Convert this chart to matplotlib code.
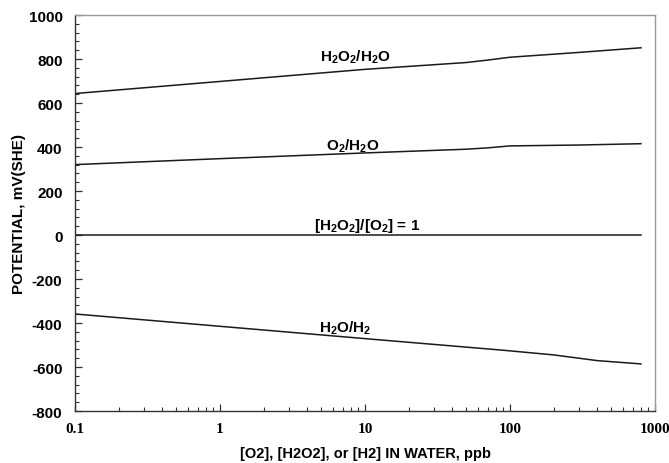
import matplotlib
matplotlib.use("Agg")
import matplotlib.pyplot as plt
from matplotlib.ticker import MultipleLocator, LogLocator, FixedLocator, NullFormatter

plt.rcParams['font.family'] = ['Liberation Sans', 'DejaVu Sans']
plt.rcParams['mathtext.fontset'] = 'custom'
plt.rcParams['mathtext.rm'] = 'Liberation Sans:bold'
plt.rcParams['mathtext.bf'] = 'Liberation Sans:bold'
plt.rcParams['mathtext.it'] = 'Liberation Sans:bold'
plt.rcParams['mathtext.default'] = 'rm'

# concentrations (ppb)
conc = [0.1, 1, 10, 50, 70, 100, 300, 800]
h2o2_h2o = [643, 698, 753, 784, 795, 808, 830, 851]
o2_h2o = [320, 347, 373, 390, 396, 405, 409, 415]
ratio_line = [0, 0, 0, 0, 0, 0, 0, 0]
conc_h2 = [0.1, 1, 10, 87, 200, 400, 800]
h2o_h2 = [-359, -415, -471, -523, -545, -571, -586]

labels = [r'H$_2$O$_2$/H$_2$O', r'O$_2$/H$_2$O',
          r'[H$_2$O$_2$]/[O$_2$] = 1', r'H$_2$O/H$_2$']
label_x = [8.6, 8.2, 10.4, 7.3]
label_y = [814, 409, 45, -418]

x_ticks = [0.1, 1, 10, 100, 1000]
x_ticklabels = ['0.1', '1', '10', '100', '1000']
y_ticks = [-800, -600, -400, -200, 0, 200, 400, 600, 800, 1000]

fig = plt.figure(figsize=(6.69, 4.64), dpi=100)
ax = fig.add_axes([75/669, 1-412/464, (655-75)/669, (412-16)/464])

lc = '#1a1a1a'
ax.plot(conc, h2o2_h2o, color=lc, lw=1.1)
ax.plot(conc, o2_h2o, color=lc, lw=1.1)
ax.plot(conc, ratio_line, color=lc, lw=1.1)
ax.plot(conc_h2, h2o_h2, color=lc, lw=1.1)

for t, x, y in zip(labels, label_x, label_y):
    ax.text(x, y, t, ha='center', va='center', fontsize=11, fontweight='bold', color='black')

ax.set_xscale('log')
ax.set_xlim(0.1, 1000)
ax.set_ylim(-800, 1000)
ax.xaxis.set_major_locator(FixedLocator(x_ticks))
ax.set_xticklabels(x_ticklabels, fontfamily='Liberation Serif', fontweight='bold', fontsize=11)
ax.xaxis.set_minor_locator(LogLocator(base=10, subs=range(2, 10)))
ax.xaxis.set_minor_formatter(NullFormatter())
ax.set_yticks(y_ticks)
ax.set_yticklabels([str(v) for v in y_ticks], fontweight='bold', fontsize=11)
ax.yaxis.set_minor_locator(MultipleLocator(40))

ax.tick_params(which='major', direction='in', length=5, width=0.9, color='#333')
ax.tick_params(which='minor', direction='in', length=3, width=0.8, color='#333')
ax.tick_params(axis='x', pad=8)
ax.tick_params(axis='y', pad=9)

for s in ['left', 'bottom']:
    ax.spines[s].set_color('#333')
    ax.spines[s].set_linewidth(1.0)
for s in ['top', 'right']:
    ax.spines[s].set_color('#999')
    ax.spines[s].set_linewidth(1.0)

ax.set_xlabel('[O2], [H2O2], or [H2] IN WATER, ppb', fontweight='bold', fontsize=10.5, labelpad=8)
ax.set_ylabel('POTENTIAL, mV(SHE)', fontweight='bold', fontsize=11, labelpad=2)

fig.savefig('out.png', dpi=100)
